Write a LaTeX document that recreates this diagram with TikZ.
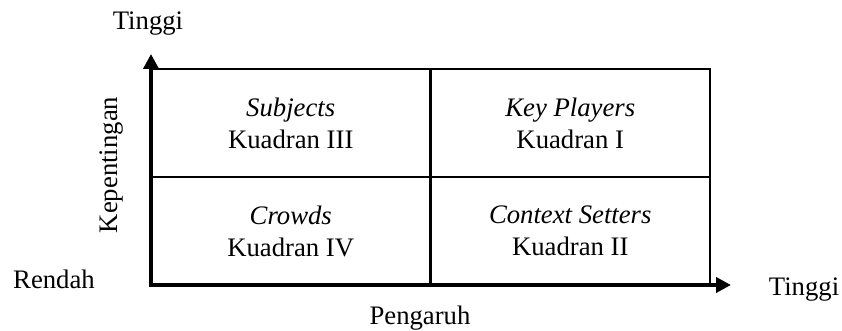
\documentclass[tikz,border=0pt]{standalone}
\usepackage{fontspec}
\setmainfont{Liberation Serif}
\usetikzlibrary{arrows.meta,positioning}

\begin{document}
\begin{tikzpicture}[
node distance=0pt and 0pt,
font=\fontsize{15.2}{18.2}\selectfont,
quad/.style={draw, line width=1.3pt, outer sep=0pt, inner sep=0pt, minimum width=5.59cm, minimum height=2.16cm, align=center},
axis/.style={line width=2.5pt, {Triangle[length=3mm,width=3mm]}-{Triangle[length=3mm,width=3mm]}},
lbl/.style={anchor=base, inner sep=0pt}
]
\useasboundingbox (0,0) rectangle (16.84,6.62);
\node[quad, anchor=south west] (crowds) at (3.02,0.92) {\textit{Crowds}\\Kuadran IV};
\node[quad, above=of crowds] (subjects) {\textit{Subjects}\\Kuadran III};
\node[quad, right=of crowds] (setters) {\textit{Context Setters}\\Kuadran II};
\node[quad, above=of setters] (players) {\textit{Key Players}\\Kuadran I};

\draw[line width=2pt] (subjects.north east) -- (crowds.south east);
\coordinate[above=3mm of subjects.north west] (ytip);
\coordinate[right=4.2mm of setters.south east] (xtip);
\draw[axis] (ytip) -- (crowds.south west) -- (xtip);

\node[lbl] (ytop) at (2.96,6.02) {Tinggi};
\node[lbl] (ylow) at (1.08,0.84) {Rendah};
\node[lbl] (xtop) at (16.08,0.70) {Tinggi};
\node[lbl] (xlabel) at (8.4,0.12) {Pengaruh};
\node[lbl, rotate=90] (ylabel) at (2.34,3.32) {Kepentingan};
\end{tikzpicture}
\end{document}
